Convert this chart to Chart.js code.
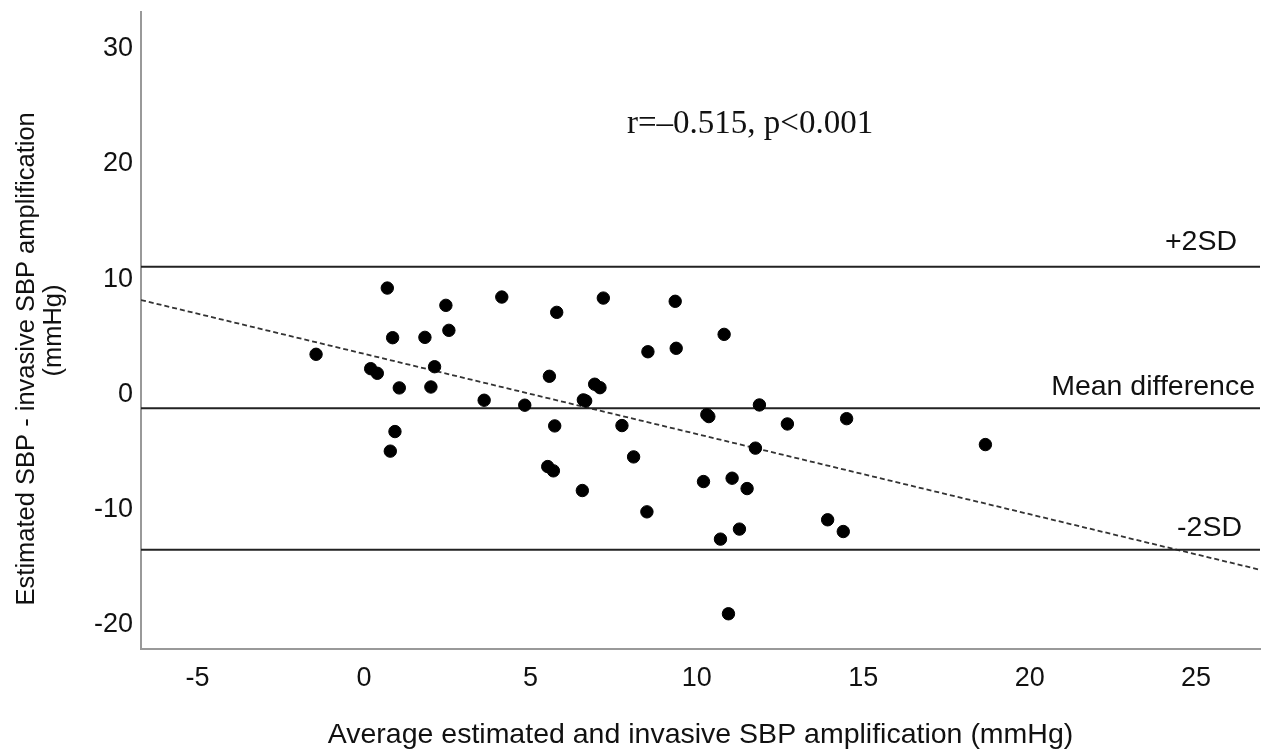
<!DOCTYPE html>
<html lang="en">
<head>
    <meta charset="UTF-8">
    <title>Bland-Altman SBP amplification</title>
    <script src="https://cdn.jsdelivr.net/npm/chart.js"></script>
    <style>
        body {
            margin: 0;
            background: #fff;
        }
        #chart-container {
            width: 1268px;
            height: 753px;
        }
    </style>
</head>
<body>

    <div id="chart-container">
        <canvas id="baChart" width="1268" height="753"></canvas>
    </div>

    <script>
        // Average of the two methods (x) and their difference (y)
        const avgValues = [
            0.70, 4.14, 7.19, 9.35, 2.46, 5.79, 2.55, 0.86, 1.83, -1.44,
            8.53, 9.38, 0.20, 0.40, 2.12, 5.57, 1.06, 2.01, 6.93, 7.09,
            3.61, 4.83, 6.59, 6.66, 0.93, 0.79, 5.73, 7.75, 8.10, 5.52,
            5.69, 6.56, 8.50, 10.82, 11.88, 10.30, 10.36, 12.72, 14.50, 18.67,
            11.76, 10.20, 11.06, 11.51, 13.93, 14.40, 11.28, 10.71, 10.95
        ];
        const diffValues = [
            9.22, 8.44, 8.35, 8.07, 7.72, 7.11, 5.55, 4.91, 4.94, 3.47,
            3.69, 3.99, 2.22, 1.82, 2.39, 1.56, 0.55, 0.63, 0.87, 0.57,
            -0.52, -0.95, -0.49, -0.58, -3.24, -4.94, -2.75, -2.72, -5.44, -6.28,
            -6.65, -8.36, -10.21, 5.20, -0.93, -1.77, -1.94, -2.58, -2.12, -4.37,
            -4.68, -7.58, -7.29, -8.19, -10.90, -11.92, -11.71, -12.58, -19.06
        ];

        // limits of agreement
        const meanDiff = -1.22;
        const upperLimit = 11.06;
        const lowerLimit = -13.50;

        // regression line end points (x, y)
        const fitX = [-6.70, 26.92];
        const fitY = [8.18, -15.24];

        const xMin = -6.70, xMax = 26.92;
        const yMin = -22.12, yMax = 33.19;
        const xTicks = [-5, 0, 5, 10, 15, 20, 25];
        const yTicks = [-20, -10, 0, 10, 20, 30];

        const lineLabels = ['+2SD', 'Mean difference', '-2SD'];
        const statText = 'r=\u20130.515, p<0.001';
        const statPos = [11.6, 23.4];

        const sans = "Arial, 'Liberation Sans', sans-serif";
        const serif = "'Times New Roman', 'Liberation Serif', serif";

        const points = avgValues.map((x, i) => ({ x: x, y: diffValues[i] }));
        const hline = v => [{ x: xMin, y: v }, { x: xMax, y: v }];

        // text next to the reference lines + correlation text
        const labelPlugin = {
            id: 'labels',
            afterDatasetsDraw(chart) {
                const ctx = chart.ctx;
                const xs = chart.scales.x, ys = chart.scales.y;
                const right = chart.chartArea.right;
                ctx.save();
                ctx.fillStyle = '#111';
                ctx.font = '28.5px ' + sans;
                ctx.textAlign = 'right';
                ctx.textBaseline = 'middle';
                ctx.fillText(lineLabels[0], right - 23, ys.getPixelForValue(upperLimit) - 25);
                ctx.fillText(lineLabels[1], right - 5, ys.getPixelForValue(meanDiff) - 21);
                ctx.fillText(lineLabels[2], right - 18, ys.getPixelForValue(lowerLimit) - 22);

                ctx.font = '33px ' + serif;
                ctx.textAlign = 'center';
                ctx.fillText(statText, xs.getPixelForValue(statPos[0]), ys.getPixelForValue(statPos[1]));
                ctx.restore();
            }
        };

        const ctx = document.getElementById('baChart').getContext('2d');
        const baChart = new Chart(ctx, {
            type: 'scatter',
            data: {
                datasets: [
                    {
                        label: 'points',
                        data: points,
                        backgroundColor: '#000',
                        borderColor: '#000',
                        pointRadius: 6.2,
                        pointHoverRadius: 6.2
                    },
                    {
                        label: '+2SD',
                        type: 'line',
                        data: hline(upperLimit),
                        borderColor: '#222',
                        borderWidth: 2,
                        pointRadius: 0
                    },
                    {
                        label: 'mean',
                        type: 'line',
                        data: hline(meanDiff),
                        borderColor: '#222',
                        borderWidth: 2,
                        pointRadius: 0
                    },
                    {
                        label: '-2SD',
                        type: 'line',
                        data: hline(lowerLimit),
                        borderColor: '#222',
                        borderWidth: 2,
                        pointRadius: 0
                    },
                    {
                        label: 'fit',
                        type: 'line',
                        data: fitX.map((x, i) => ({ x: x, y: fitY[i] })),
                        borderColor: '#333',
                        borderWidth: 1.8,
                        borderDash: [5, 3],
                        pointRadius: 0
                    }
                ]
            },
            options: {
                responsive: false,
                animation: false,
                layout: { padding: { top: 12, right: 8, left: 0, bottom: 0 } },
                plugins: {
                    legend: { display: false },
                    tooltip: { enabled: false }
                },
                scales: {
                    x: {
                        type: 'linear',
                        min: xMin,
                        max: xMax,
                        grid: { display: false, drawTicks: false },
                        border: { color: '#999', width: 2 },
                        afterBuildTicks: s => { s.ticks = xTicks.map(v => ({ value: v })); },
                        afterFit: s => { s.height = 104; s.paddingLeft = 0; s.paddingRight = 0; },
                        ticks: {
                            color: '#111',
                            font: { family: sans, size: 27 },
                            padding: 13,
                            maxRotation: 0
                        },
                        title: {
                            display: true,
                            text: 'Average estimated and invasive SBP amplification (mmHg)',
                            color: '#111',
                            font: { family: sans, size: 28.5, lineHeight: 1 },
                            padding: { top: 0, bottom: 3.5 }
                        }
                    },
                    y: {
                        type: 'linear',
                        min: yMin,
                        max: yMax,
                        grid: { display: false, drawTicks: false },
                        border: { color: '#999', width: 2 },
                        afterBuildTicks: s => { s.ticks = yTicks.map(v => ({ value: v })); },
                        afterFit: s => { s.width = 141; s.paddingTop = 0; s.paddingBottom = 0; },
                        ticks: {
                            color: '#111',
                            font: { family: sans, size: 27 },
                            padding: 8
                        },
                        title: {
                            display: true,
                            // trailing spaces push the first line down a little, as in the original
                            text: ['Estimated SBP - invasive SBP amplification' + '\u00a0'.repeat(8), '(mmHg)'],
                            color: '#111',
                            font: { family: sans, size: 25.5, lineHeight: 1.05 },
                            padding: { top: 14, bottom: 0 }
                        }
                    }
                }
            },
            plugins: [labelPlugin]
        });
    </script>
</body>
</html>
